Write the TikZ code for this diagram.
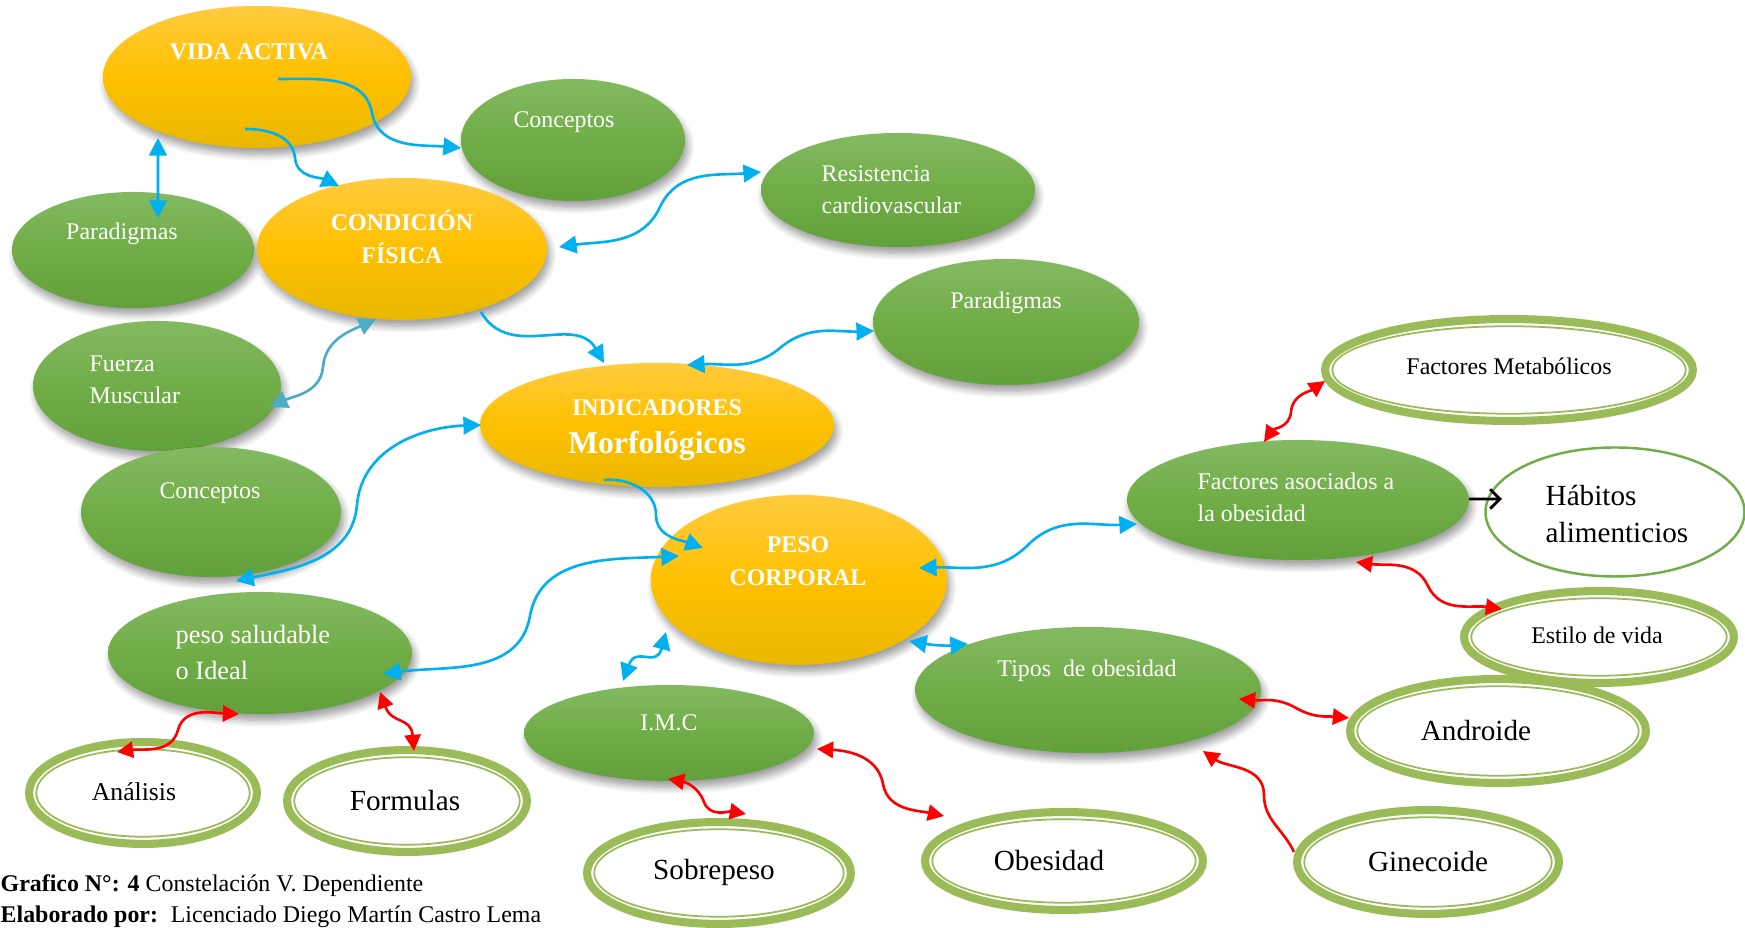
\documentclass[tikz,border=0pt]{standalone}
\usepackage{fontspec}
\setmainfont{Liberation Serif}
\usetikzlibrary{shapes.geometric, arrows.meta, shadows.blur, calc}

\definecolor{goldtop}{HTML}{FFCB3F}
\definecolor{goldmid}{HTML}{FFC000}
\definecolor{goldbot}{HTML}{E9B800}
\definecolor{greentop}{HTML}{84B962}
\definecolor{greenmid}{HTML}{70AD47}
\definecolor{greenbot}{HTML}{61A139}
\definecolor{ringgreen}{HTML}{9BBB59}
\definecolor{linkblue}{HTML}{00B0F0}
\definecolor{linkteal}{HTML}{4BACC6}
\definecolor{linkred}{HTML}{FF0000}

\tikzset{
  bsize/.style 2 args={minimum width={2*#1 cm}, minimum height={2*#2 cm}},
  rsize/.style 2 args={minimum width={2*#1 cm-2.3pt}, minimum height={2*#2 cm-2.3pt}},
  bubble/.style={ellipse, inner sep=0pt, draw=none,
    blur shadow={shadow xshift=0.8pt, shadow yshift=-1.8pt, shadow blur steps=8,
      shadow opacity=40, shadow blur radius=2pt}},
  goldbubble/.style={bubble, top color=goldtop, bottom color=goldbot, middle color=goldmid},
  greenbubble/.style={bubble, top color=greentop, bottom color=greenbot, middle color=greenmid},
  ring/.style={ellipse, inner sep=0pt, fill=white, draw=ringgreen, line width=2.3pt,
    path picture={\draw[ringgreen, line width=0.5pt]
      let \p1=($(path picture bounding box.north east)-(path picture bounding box.center)$) in
      (path picture bounding box.center) ellipse [x radius={\x1-2.05pt}, y radius={\y1-2.05pt}];}},
  thinring/.style={ellipse, inner sep=0pt, fill=white, draw=greenmid, line width=0.7pt},
  lbl/.style={text=white, inner sep=0pt, font=\fontsize{6.8pt}{9pt}\selectfont},
  boldlbl/.style={text=white, inner sep=0pt, font=\fontsize{6.8pt}{9.4pt}\selectfont\bfseries},
  dlbl/.style={text=black, inner sep=0pt, font=\fontsize{6.8pt}{9pt}\selectfont},
  biglbl/.style={text=black, inner sep=0pt, font=\fontsize{8.3pt}{10.8pt}\selectfont},
  blink/.style={draw=linkblue, line width=0.75pt, -{Triangle[length=5pt, width=5pt]}},
  bblink/.style={draw=linkblue, line width=0.75pt, {Triangle[length=5pt, width=5pt]}-{Triangle[length=5pt, width=5pt]}},
  tlink/.style={draw=linkteal, line width=0.75pt, {Triangle[length=5pt, width=5pt]}-{Triangle[length=5pt, width=5pt]}},
  rlink/.style={draw=linkred, line width=0.75pt, {Triangle[length=4.6pt, width=4.6pt]}-{Triangle[length=4.6pt, width=4.6pt]}},
  rslink/.style={draw=linkred, line width=0.75pt, -{Triangle[length=4.6pt, width=4.6pt]}},
  klink/.style={draw=black, line width=0.8pt, -{Straight Barb[length=2.8pt, width=5.5pt]}},
}

\begin{document}
\begin{tikzpicture}
\useasboundingbox (0,0) rectangle (17.45,-9.28);

% ---- concept bubbles ----
\node[greenbubble, bsize={1.21}{0.58}] (para1) at (1.33,-2.50) {};
\node[goldbubble, bsize={1.54}{0.71}] (vida) at (2.57,-0.77) {};
\node[greenbubble, bsize={1.12}{0.61}] (conc1) at (5.73,-1.40) {};
\node[goldbubble, bsize={1.45}{0.71}] (cond) at (4.02,-2.49) {};
\node[greenbubble, bsize={1.37}{0.57}] (resis) at (8.98,-1.90) {};
\node[greenbubble, bsize={1.33}{0.63}] (para2) at (10.06,-3.22) {};
\node[greenbubble, bsize={1.24}{0.65}] (fuerza) at (1.57,-3.86) {};
\node[greenbubble, bsize={1.30}{0.65}] (conc2) at (2.11,-5.12) {};
\node[goldbubble, bsize={1.77}{0.62}] (indic) at (6.57,-4.25) {};
\node[goldbubble, bsize={1.48}{0.85}] (peso) at (7.99,-5.80) {};
\node[greenbubble, bsize={1.71}{0.60}] (factores) at (12.98,-5.00) {};
\node[greenbubble, bsize={1.73}{0.63}] (tipos) at (10.88,-6.90) {};
\node[greenbubble, bsize={1.45}{0.48}] (imc) at (6.69,-7.33) {};
\node[greenbubble, bsize={1.52}{0.61}] (salud) at (2.60,-6.53) {};

% ---- outlined leaves ----
\node[ring, rsize={1.88}{0.55}] (metab) at (15.09,-3.70) {};
\node[thinring, minimum width=2.59cm, minimum height=1.29cm] (habitos) at (16.15,-5.12) {};
\node[ring, rsize={1.39}{0.50}] (estilo) at (15.99,-6.37) {};
\node[ring, rsize={1.52}{0.56}] (androide) at (14.98,-7.31) {};
\node[ring, rsize={1.35}{0.56}] (gine) at (14.28,-8.62) {};
\node[ring, rsize={1.43}{0.53}] (obes) at (10.64,-8.61) {};
\node[ring, rsize={1.36}{0.55}] (sobre) at (7.19,-8.73) {};
\node[ring, rsize={1.18}{0.55}] (analisis) at (1.43,-7.93) {};
\node[ring, rsize={1.24}{0.55}] (formulas) at (4.07,-8.01) {};

% ---- labels ----
\node[boldlbl] (vida-t) at (2.49,-0.52) {VIDA ACTIVA};
\node[lbl] (conc1-t) at (5.64,-1.22) {Conceptos};
\node[lbl] (para1-t) at (1.22,-2.34) {Paradigmas};
\node[boldlbl, align=center] (cond-t) at (4.02,-2.37) {CONDICIÓN\\FÍSICA};
\node[lbl, anchor=west, align=left] (resis-t) at (8.21,-1.895) {Resistencia\\cardiovascular};
\node[lbl] (para2-t) at (10.06,-3.03) {Paradigmas};
\node[lbl, anchor=west, align=left] (fuerza-t) at (0.89,-3.80) {Fuerza\\Muscular};
\node[lbl] (conc2-t) at (2.10,-4.93) {Conceptos};
\node[boldlbl] (indic-t) at (6.57,-4.08) {INDICADORES};
\node[boldlbl, font=\fontsize{9pt}{11pt}\selectfont\bfseries] (morf-t) at (6.57,-4.46) {Morfológicos};
\node[boldlbl, align=center] (peso-t) at (7.98,-5.61) {PESO\\CORPORAL};
\node[lbl, anchor=west, align=left] (fact-t) at (11.97,-4.975) {Factores asociados a\\la obesidad};
\node[lbl] (tipos-t) at (10.87,-6.71) {Tipos\ \ de obesidad};
\node[lbl] (imc-t) at (6.69,-7.23) {I.M.C};
\node[lbl, font=\fontsize{7.5pt}{10pt}\selectfont, anchor=west, align=left] (salud-t) at (1.75,-6.525) {peso saludable\\o Ideal};

\node[dlbl] (metab-t) at (15.09,-3.66) {Factores Metabólicos};
\node[biglbl, anchor=west, align=left] (hab-t) at (15.45,-5.14) {Hábitos\\alimenticios};
\node[dlbl] (estilo-t) at (15.97,-6.35) {Estilo de vida};
\node[biglbl] (andr-t) at (14.76,-7.31) {Androide};
\node[biglbl] (gine-t) at (14.28,-8.62) {Ginecoide};
\node[biglbl] (obes-t) at (10.49,-8.61) {Obesidad};
\node[biglbl] (sobre-t) at (7.14,-8.73) {Sobrepeso};
\node[dlbl, font=\fontsize{7.3pt}{9pt}\selectfont] (anal-t) at (1.34,-7.92) {Análisis};
\node[biglbl] (form-t) at (4.05,-8.01) {Formulas};

% ---- caption ----
\node[dlbl, anchor=west] (cap1) at (0,-8.86) {\textbf{Grafico N°: 4} Constelación V. Dependiente};
\node[dlbl, anchor=west] (cap2) at (0,-9.17) {\textbf{Elaborado por:}\hspace{0.2em} Licenciado Diego Martín Castro Lema};

% ---- blue connectors ----
\draw[blink] ($(vida.center)+(0.21,-0.02)$) to[out=0, in=100] ++(0.94,-0.34) to[out=-80, in=175] ($(conc1.center)+(-1.12,-0.08)$);
\draw[blink] ($(vida.center)+(-0.12,-0.52)$) to[out=0, in=95] ++(0.50,-0.29) to[out=-85, in=155] ($(cond.center)+(-0.63,0.63)$);
\draw[bblink] ($(vida.center)+(-0.99,-0.61)$) -- ($(para1.center)+(0.25,0.32)$);
\draw[bblink] ($(cond.center)+(1.57,0.02)$) to[out=8, in=-115] ++(1.01,0.40) to[out=65, in=185] ($(resis.center)+(-1.37,0.18)$);
\draw[blink] ($(cond.center)+(0.79,-0.63)$) to[out=-60, in=120, looseness=1.1] ($(indic.center)+(-0.53,0.62)$);
\draw[bblink] ($(indic.center)+(0.30,0.60)$) to[out=3, in=-140] ++(0.93,0.17) to[out=40, in=182] ($(para2.center)+(-1.32,-0.09)$);
\draw[tlink] ($(fuerza.center)+(1.13,-0.21)$) to[out=25, in=-95] ++(0.53,0.40) to[out=85, in=205] ($(cond.center)+(-0.26,-0.70)$);
\draw[bblink] ($(conc2.center)+(0.25,-0.69)$) to[out=12, in=-95] ++(1.21,0.76) to[out=85, in=182] ($(indic.center)+(-1.76,0)$);
\draw[blink] ($(indic.center)+(-0.53,-0.55)$) to[out=5, in=90] ++(0.52,-0.35) to[out=-90, in=160] ($(peso.center)+(-0.96,0.32)$);
\draw[bblink] ($(salud.center)+(1.23,-0.21)$) to[out=8, in=-100] ++(1.47,0.58) to[out=80, in=183] ($(peso.center)+(-1.20,0.24)$);
\draw[bblink] ($(imc.center)+(-0.46,0.52)$) to[out=70, in=-105, looseness=1.5] ($(peso.center)+(-1.33,-0.52)$);
\draw[bblink] ($(peso.center)+(1.20,0.12)$) to[out=2, in=-135] ++(1.09,0.23) to[out=45, in=183] ($(factores.center)+(-1.61,-0.24)$);
\draw[bblink] ($(peso.center)+(1.10,-0.61)$) to[out=-10, in=185] ($(tipos.center)+(-1.20,0.46)$);

% ---- black connector ----
\draw[klink] ($(factores.center)+(1.71,0.01)$) -- ($(habitos.center)+(-1.13,0.13)$);

% ---- red connectors ----
\draw[rlink] ($(factores.center)+(-0.34,0.58)$) to[out=55, in=-95] ++(0.27,0.30) to[out=85, in=215] ($(metab.center)+(-1.84,-0.11)$);
\draw[rlink] ($(factores.center)+(0.58,-0.62)$) to[out=-8, in=115] ++(0.72,-0.24) to[out=-65, in=172] ($(estilo.center)+(-0.97,0.28)$);
\draw[rlink] ($(tipos.center)+(1.51,-0.09)$) to[out=-5, in=150] ++(0.57,-0.09) to[out=-30, in=175] ($(androide.center)+(-1.49,0.13)$);
\draw[rslink] ($(gine.center)+(-1.34,0.10)$) to[out=115, in=-90] ++(-0.30,0.57) to[out=90, in=-35] ($(tipos.center)+(1.15,-0.61)$);
\draw[rlink] ($(imc.center)+(1.48,-0.16)$) to[out=-3, in=100] ++(0.66,-0.35) to[out=-80, in=168] ($(obes.center)+(-1.20,0.45)$);
\draw[rlink] ($(imc.center)+(-0.01,-0.46)$) to[out=-10, in=110] ++(0.36,-0.23) to[out=-70, in=170] ($(sobre.center)+(0.27,0.59)$);
\draw[rlink] ($(salud.center)+(-0.21,-0.61)$) to[out=178, in=75] ++(-0.61,-0.16) to[out=-105, in=8] ($(analisis.center)+(-0.26,0.41)$);
\draw[rlink] ($(salud.center)+(1.20,-0.39)$) to[out=-70, in=95, looseness=1.3] ($(formulas.center)+(0.07,0.50)$);
\end{tikzpicture}
\end{document}
